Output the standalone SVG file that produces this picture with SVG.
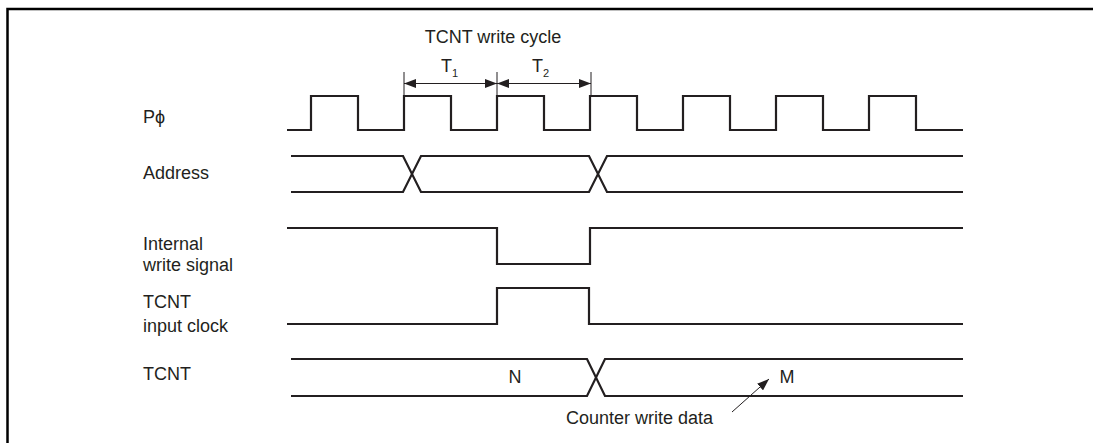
<svg xmlns="http://www.w3.org/2000/svg" width="1093" height="443" viewBox="0 0 1093 443">
<style>
.sig{fill:none;stroke:#231f20;stroke-width:2.2;stroke-linejoin:miter}
.dim{fill:none;stroke:#231f20;stroke-width:1}
.lbl{font-family:"Liberation Sans",Arial,sans-serif;font-size:18px;fill:#231f20}
.frame{fill:none;stroke:#000;stroke-width:2.5}
</style>
<defs>
<marker id="ah" viewBox="0 0 12 9" refX="12" refY="4.5" markerWidth="12" markerHeight="9" markerUnits="userSpaceOnUse" orient="auto-start-reverse">
<path d="M0,0 L12,4.5 L0,9 z" fill="#231f20"/>
</marker>
</defs>
<rect width="1093" height="443" fill="#fff"/>
<path class="frame" d="M7.5,443 V9 H1093"/>

<g id="labels">
<text class="lbl" x="143" y="123">Pϕ</text>
<text class="lbl" x="143" y="179">Address</text>
<text class="lbl" x="143" y="250">Internal</text>
<text class="lbl" x="143" y="271">write signal</text>
<text class="lbl" x="143" y="308">TCNT</text>
<text class="lbl" x="143" y="332">input clock</text>
<text class="lbl" x="143" y="380">TCNT</text>
</g>

<g id="clock">
<path class="sig" d="M287,130 H311 V96 H358 V130 H404 V96 H451 V130 H497 V96 H544 V130 H590 V96 H637 V130 H683 V96 H730 V130 H776 V96 H823 V130 H869 V96 H916 V130 H963"/>
</g>

<g id="address">
<path class="sig" d="M291,156 H403 L421,192 H589 L607,156 H963"/>
<path class="sig" d="M291,192 H403 L421,156 H589 L607,192 H963"/>
</g>

<g id="internal-write">
<path class="sig" d="M287,228 H497 V264 H590 V228 H963"/>
</g>

<g id="tcnt-input-clock">
<path class="sig" d="M287,324 H497 V288 H589 V324 H963"/>
</g>

<g id="tcnt">
<path class="sig" d="M291,359 H587 L605,396 H963"/>
<path class="sig" d="M291,396 H587 L605,359 H963"/>
<text class="lbl" x="515" y="383" text-anchor="middle">N</text>
<text class="lbl" x="787" y="383" text-anchor="middle">M</text>
</g>

<g id="write-cycle">
<text class="lbl" x="493" y="43" text-anchor="middle">TCNT write cycle</text>
<text class="lbl" x="441" y="72" font-size="17">T<tspan font-size="11" dy="5">1</tspan></text>
<text class="lbl" x="532" y="72" font-size="17">T<tspan font-size="11" dy="5">2</tspan></text>
</g>

<g id="connectors">
<line class="dim" x1="404" y1="72" x2="404" y2="96"/>
<line class="dim" x1="497" y1="72" x2="497" y2="96"/>
<line class="dim" x1="591" y1="72" x2="591" y2="96"/>
<line class="dim" x1="404" y1="83.5" x2="497" y2="83.5" marker-start="url(#ah)" marker-end="url(#ah)"/>
<line class="dim" x1="497" y1="83.5" x2="591" y2="83.5" marker-start="url(#ah)" marker-end="url(#ah)"/>
<line class="dim" x1="732" y1="412" x2="769" y2="379" stroke-width="1.2" marker-end="url(#ah)"/>
</g>

<g id="counter-write-data">
<text class="lbl" x="566" y="424">Counter write data</text>
</g>
</svg>
